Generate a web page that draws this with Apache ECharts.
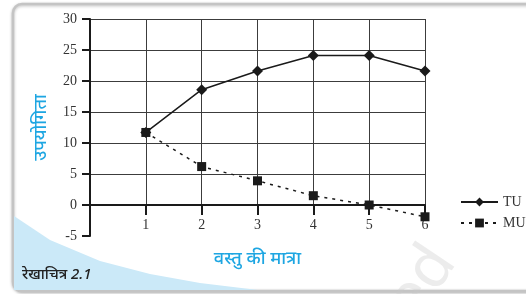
<!DOCTYPE html>
<html>
<head>
<meta charset="utf-8">
<script src="https://cdn.jsdelivr.net/npm/echarts@6/dist/echarts.min.js"></script>
<style>
  html, body { margin: 0; padding: 0; background: #fff; }
  #chart { width: 526px; height: 294px; }
</style>
</head>
<body>
<div id="chart"></div>
<script>
// values
var quantity = [1, 2, 3, 4, 5, 6];
var tu = [11.7, 18.6, 21.6, 24.1, 24.1, 21.6];
var mu = [11.7, 6.2, 3.9, 1.5, 0, -1.9];
var yTicks = { min: -5, max: 30, step: 5 };

var serif = "'Liberation Serif', 'DejaVu Serif', serif";
var deva = "'Noto Sans', 'Noto Sans Devanagari', sans-serif";
var ink = '#1a1a1a', sky = '#1ea6e2';

function pairs(xs, ys) { return xs.map(function (x, i) { return [x, ys[i]]; }); }

var chart = echarts.init(document.getElementById('chart'));
chart.setOption({
  animation: false,
  graphic: [
    { type: 'rect', z: -10, shape: { x: 13, y: 4, width: 540, height: 287, r: 9 },
      style: { fill: '#fff', stroke: '#c4c4c4', lineWidth: 2.5, shadowBlur: 3, shadowColor: 'rgba(0,0,0,0.25)', shadowOffsetY: 1 } },
    // light blue corner swoosh (decoration)
    { type: 'polygon', z: -9,
      shape: { points: [[14, 216], [50, 240], [100, 261], [150, 274], [200, 283], [258, 290], [14, 290]] },
      style: { fill: '#cbe9f8' } },
    { type: 'text', z: -8, x: 22, y: 267, style: { text: 'रेखाचित्र 2.1', font: 'italic 500 15px ' + deva, fill: '#222' } },
    { type: 'text', z: -8, x: 376, y: 296, rotation: Math.PI / 3.2,
      style: { text: 'ed', font: '62px ' + deva, fill: 'rgba(200,200,200,0.35)' } }
  ],
  legend: {
    orient: 'vertical', left: 455, top: 190, itemWidth: 37, itemHeight: 11, itemGap: 7,
    textStyle: { fontFamily: serif, fontSize: 14, color: '#333' },
    data: ['TU', 'MU']
  },
  grid: [
    { left: 90, right: 101, top: 19, bottom: 89 },
    { left: 90, right: 101, top: 19, bottom: 58 }
  ],
  xAxis: [
    // grid 0 bottom edge sits exactly on y = 0 of grid 1, so it carries the x axis
    { gridIndex: 0, type: 'value', min: 0, max: 6, interval: 1,
      axisLine: { show: true, lineStyle: { color: ink, width: 2 } },
      axisTick: { show: true, length: 10, lineStyle: { color: ink, width: 2 } },
      axisLabel: { margin: 13, fontFamily: serif, fontSize: 14, color: '#333',
        formatter: function (v) { return v === 0 ? '' : v; } },
      splitLine: { show: true, lineStyle: { color: '#3c3c3c', width: 1 } },
      name: 'वस्तु की मात्रा', nameLocation: 'middle', nameGap: 45,
      nameTextStyle: { fontFamily: deva, fontSize: 18, fontWeight: 500, color: sky } },
    { gridIndex: 1, type: 'value', min: 0, max: 6, interval: 1, show: false }
  ],
  yAxis: [
    { gridIndex: 0, type: 'value', min: 0, max: yTicks.max, interval: yTicks.step,
      axisLine: { show: false }, axisTick: { show: false }, axisLabel: { show: false },
      splitLine: { show: true, lineStyle: { color: '#3c3c3c', width: 1 } } },
    { gridIndex: 1, type: 'value', min: yTicks.min, max: yTicks.max, interval: yTicks.step,
      axisLine: { show: true, onZero: false, lineStyle: { color: ink, width: 2 } },
      axisTick: { show: true, length: 8, lineStyle: { color: ink, width: 2 } },
      axisLabel: { margin: 13, fontFamily: serif, fontSize: 14, color: '#333' },
      splitLine: { show: false },
      name: 'उपयोगिता', nameLocation: 'middle', nameRotate: 90, nameGap: 40,
      nameTextStyle: { fontFamily: deva, fontSize: 18, fontWeight: 500, color: sky } }
  ],
  series: [
    { name: 'TU', type: 'line', xAxisIndex: 1, yAxisIndex: 1, data: pairs(quantity, tu),
      symbol: 'diamond', symbolSize: 11,
      lineStyle: { color: ink, width: 1.5 }, itemStyle: { color: ink } },
    { name: 'MU', type: 'line', xAxisIndex: 1, yAxisIndex: 1, data: pairs(quantity, mu),
      symbol: 'rect', symbolSize: 9,
      lineStyle: { color: ink, width: 1.5, type: [3, 5] }, itemStyle: { color: ink } }
  ]
});
</script>
</body>
</html>
